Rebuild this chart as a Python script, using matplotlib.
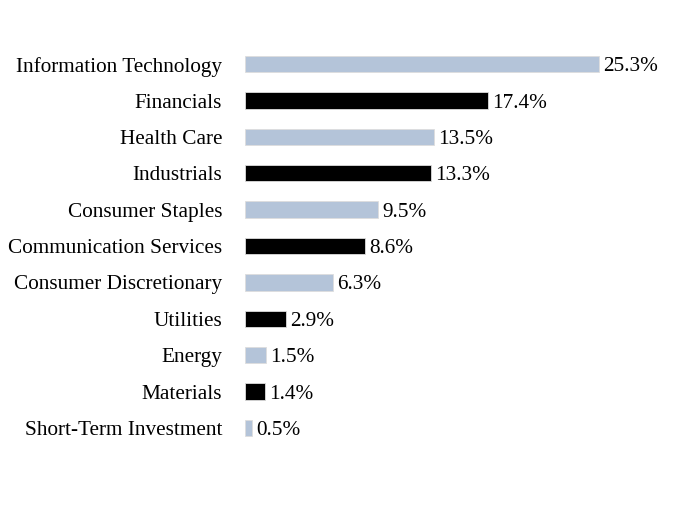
import matplotlib
matplotlib.use("Agg")
import matplotlib.pyplot as plt

sectors = ["Information Technology", "Financials", "Health Care", "Industrials",
           "Consumer Staples", "Communication Services", "Consumer Discretionary",
           "Utilities", "Energy", "Materials", "Short-Term Investment"]
weights = [25.3, 17.4, 13.5, 13.3, 9.5, 8.6, 6.3, 2.9, 1.5, 1.4, 0.5]
colors = ["#b4c4d9", "#000000"]

plt.rcParams['font.family'] = ['Liberation Serif', 'DejaVu Serif']

fig = plt.figure(figsize=(6.96, 5.28), dpi=100)
ax = fig.add_axes([0.352, 0.155, 0.603, 0.758])

ypos = list(range(len(sectors)))
bar_colors = [colors[i % 2] for i in ypos]
ax.barh(ypos, weights, height=0.45, color=bar_colors, edgecolor="#dddddd", linewidth=0.6)

for y, w in zip(ypos, weights):
    ax.text(w + 0.3, y, f"{w}%", va="center_baseline", ha="left", fontsize=15.3)

ax.set_yticks(ypos)
ax.set_yticklabels(sectors, fontsize=15.3, va="center_baseline")
ax.tick_params(axis="y", length=0, pad=16.5)
ax.set_xticks([])
ax.set_xlim(0, 30)
ax.set_ylim(len(sectors) - 0.5, -0.5)
for s in ax.spines.values():
    s.set_visible(False)

fig.savefig("out.png", dpi=100)
